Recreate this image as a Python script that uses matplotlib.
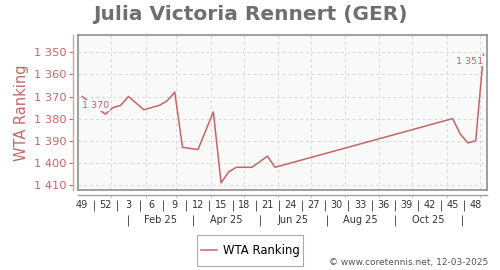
import datetime as dt
import matplotlib
matplotlib.use("Agg")
import matplotlib.pyplot as plt
import matplotlib.dates as mdates
from matplotlib.ticker import FuncFormatter
from matplotlib.patches import Rectangle

# weekly WTA ranking (ISO year / week)
years = [2024, 2024] + [2025] * 22
weeks = [49, 52, 1, 2, 3, 5, 6, 7, 8, 9, 10, 12, 14, 15, 16, 17, 19, 21, 22,
         45, 46, 47, 48, 49]
ranking = [1370, 1378, 1375, 1374, 1370, 1376, 1375, 1374, 1372, 1368, 1393,
           1394, 1377, 1409, 1404, 1402, 1402, 1397, 1402, 1380, 1387, 1391,
           1390, 1351]

tick_years = [2024, 2024] + [2025] * 16
tick_weeks = [49, 52, 3, 6, 9, 12, 15, 18, 21, 24, 27, 30, 33, 36, 39, 42, 45, 48]
sep_years = [2024] + [2025] * 16
sep_weeks = [51, 2, 5, 8, 11, 14, 17, 20, 23, 26, 29, 32, 35, 38, 41, 44, 47]

month_labels = ['Feb 25', 'Apr 25', 'Jun 25', 'Aug 25', 'Oct 25']
month_label_dates = ['2025-02-15', '2025-04-15', '2025-06-15', '2025-08-15', '2025-10-15']
month_sep_dates = ['2025-01-16', '2025-03-16', '2025-05-16', '2025-07-16', '2025-09-15', '2025-11-15']
grid_dates = ['2025-%02d-01' % m for m in range(1, 13)]
y_ticks = [1350, 1360, 1370, 1380, 1390, 1400, 1410]

RED = '#c86464'


def week_mid(y, w):
    return mdates.date2num(dt.datetime.combine(dt.date.fromisocalendar(y, w, 1), dt.time()) + dt.timedelta(days=3.5))


def week_start(y, w):
    return mdates.date2num(dt.datetime.combine(dt.date.fromisocalendar(y, w, 1), dt.time()))


def to_num(s):
    return mdates.date2num(dt.datetime.strptime(s, '%Y-%m-%d'))


x = [week_mid(y, w) for y, w in zip(years, weeks)]

fig = plt.figure(figsize=(5, 2.7), dpi=100)
ax = fig.add_axes([78.3 / 500, 1 - 190.3 / 270, 409 / 500, 155.3 / 270])
ax.set_facecolor('#f9f9f9')
for s in ax.spines.values():
    s.set_color('#858585')
    s.set_linewidth(1.1)

line, = ax.plot(x, ranking, color=RED, lw=1.1, zorder=2)
ax.set_xlim(week_start(2024, 49), week_start(2025, 50))
ax.set_ylim(1412.4, 1342.2)

ax.set_yticks(y_ticks)
ax.set_xticks([to_num(d) for d in grid_dates])
ax.tick_params(length=0, labelleft=False, labelbottom=False)
ax.grid(color='#d9d9d9', ls=(0, (3, 3)), lw=0.7)

# labels for first and last value
ax.annotate('1 370', (x[0], ranking[0]), xytext=(0, -9), textcoords='offset pixels',
            ha='left', va='center', fontsize=6.8, color=RED, zorder=4,
            bbox=dict(fc='#f9f9f9', ec='none', pad=0.6))
ax.annotate('1 351', (x[-1], ranking[-1]), xytext=(0, -6.6), textcoords='offset pixels',
            ha='right', va='center', fontsize=6.8, color=RED, zorder=4,
            bbox=dict(fc='#f9f9f9', ec='none', pad=0.6))

# red y axis
fmt = FuncFormatter(lambda v, p: f'{v:,.0f}'.replace(',', ' '))
sy = ax.secondary_yaxis(-5 / 409)
sy.spines['left'].set_color('#dba0a0')
sy.spines['left'].set_linewidth(1.0)
sy.set_yticks(y_ticks)
sy.yaxis.set_major_formatter(fmt)
sy.tick_params(axis='y', colors=RED, length=2.9, width=0.7, pad=1.8, labelsize=8.2)
sy.set_ylabel('WTA Ranking', color=RED, fontsize=10.5, labelpad=4)

# x axis line with small month marks
xa1 = ax.secondary_xaxis(-4.7 / 155.3)
for s in xa1.spines.values():
    s.set_color('#a0a0a0')
    s.set_linewidth(1.0)
xa1.set_xticks([to_num(d) for d in grid_dates])
xa1.tick_params(axis='x', length=1.5, width=0.6, colors='#a0a0a0', labelbottom=False)

# week numbers
xa2 = ax.secondary_xaxis(-9.2 / 155.3)
for s in xa2.spines.values():
    s.set_visible(False)
xa2.set_xticks([week_mid(y, w) for y, w in zip(tick_years, tick_weeks)],
               [str(w) for w in tick_weeks])
xa2.set_xticks([week_start(y, w) for y, w in zip(sep_years, sep_weeks)], minor=True)
xa2.tick_params(axis='x', which='major', length=0, pad=0.5, labelsize=7, labelcolor='#333333')
xa2.tick_params(axis='x', which='minor', length=7.6, width=0.7, color='#555555')

# months
xa3 = ax.secondary_xaxis(-24.2 / 155.3)
for s in xa3.spines.values():
    s.set_visible(False)
xa3.set_xticks([to_num(d) for d in month_label_dates], month_labels)
xa3.set_xticks([to_num(d) for d in month_sep_dates], minor=True)
xa3.tick_params(axis='x', which='major', length=0, pad=0.3, labelsize=7, labelcolor='#333333')
xa3.tick_params(axis='x', which='minor', length=7.6, width=0.7, color='#555555')

fig.text(0.5, 1 - 14 / 270, 'Julia Victoria Rennert (GER)', ha='center', va='center',
         fontsize=14.5, fontweight='bold', color='#6e6e6e')

fig.add_artist(Rectangle((197.3 / 500, 1 - 265.7 / 270), 105.4 / 500, 30.7 / 270,
                         transform=fig.transFigure, fc='white', ec='#aaaaaa', lw=0.8))
fig.legend([line], ['WTA Ranking'], loc='center', bbox_to_anchor=(250 / 500, 1 - 250.4 / 270),
           frameon=False, fontsize=8.4, handlelength=1.4, handletextpad=0.5)

fig.text(488 / 500, 1 - 263 / 270, '\u00a9 www.coretennis.net, 12-03-2025', ha='right',
         va='center', fontsize=6.5, color='#555555')

fig.savefig('out.png', dpi=100)
